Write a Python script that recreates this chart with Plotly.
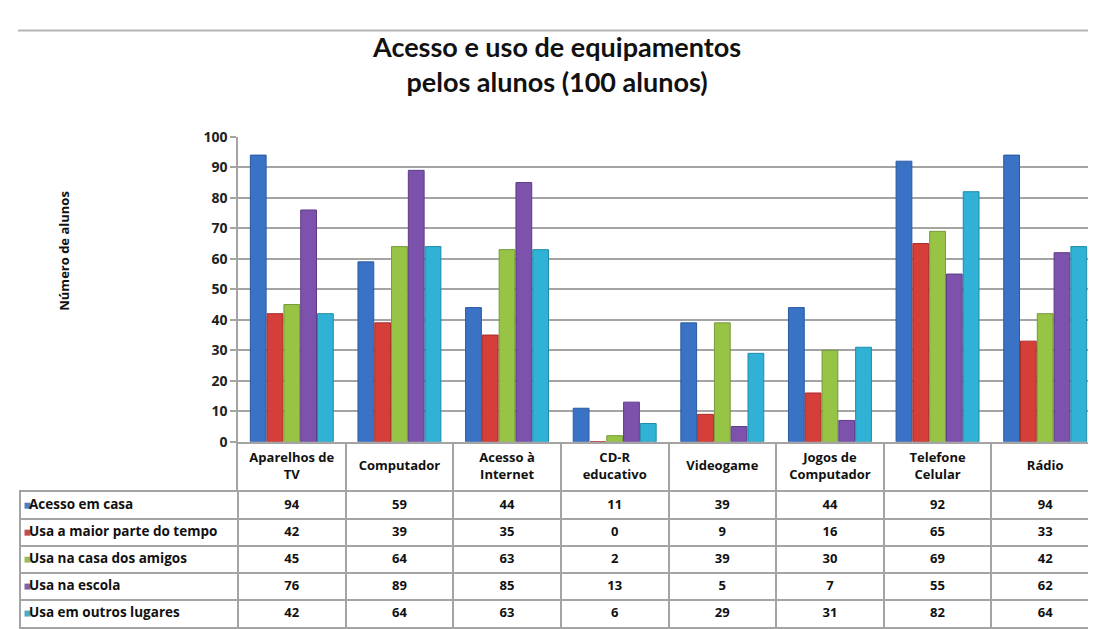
import plotly.graph_objects as go

categories = ["Aparelhos de TV", "Computador", "Acesso à Internet", "CD-R educativo",
              "Videogame", "Jogos de Computador", "Telefone Celular", "Rádio"]
header_labels = ["Aparelhos de<br>TV", "Computador", "Acesso à<br>Internet", "CD-R<br>educativo",
                 "Videogame", "Jogos de<br>Computador", "Telefone<br>Celular", "Rádio"]

series_names = ["Acesso em casa", "Usa a maior parte do tempo", "Usa na casa dos amigos",
                "Usa na escola", "Usa em outros lugares"]
acesso_em_casa = [94, 59, 44, 11, 39, 44, 92, 94]
usa_maior_parte = [42, 39, 35, 0, 9, 16, 65, 33]
usa_casa_amigos = [45, 64, 63, 2, 39, 30, 69, 42]
usa_na_escola = [76, 89, 85, 13, 5, 7, 55, 62]
usa_outros_lugares = [42, 64, 63, 6, 29, 31, 82, 64]
series_values = [acesso_em_casa, usa_maior_parte, usa_casa_amigos, usa_na_escola, usa_outros_lugares]

bar_colors = ["#3A72C6", "#D63E3A", "#98C446", "#7D52AC", "#2FB2D5"]
line_colors = ["#2A5AA0", "#A82C28", "#74993A", "#5C3C85", "#1F8BA8"]
legend_colors = ["#4F81BD", "#C0504D", "#9BBB59", "#8064A2", "#4BACC6"]

W, H = 1096, 629
def px_x(x):
    return x / W
def px_y(y):
    return 1 - y / H

# layout geometry (pixels)
PLOT_L, PLOT_R = 230, 1091
TABLE_L = 13
PLOT_TOP, HEADER_TOP = 122.5, 437
BODY_TOP, BODY_BOT = 489, 628
COL_W = (PLOT_R - PLOT_L) / len(categories)
LAB_W = (PLOT_L - TABLE_L) / COL_W   # label column width in column units

GRID = "#A4A4A4"
FONT = "Open Sans, Roboto, sans-serif"

fig = go.Figure()
for name, vals, c, lc in zip(series_names, series_values, bar_colors, line_colors):
    fig.add_trace(go.Bar(x=categories, y=vals, name=name,
                         marker=dict(color=c, line=dict(color=lc, width=1)),
                         showlegend=False, xaxis="x", yaxis="y"))

# table header (category names)
fig.add_trace(go.Scatter(
    x=[i + 0.5 for i in range(len(categories))], y=[0.5] * len(categories),
    text=[f"<b>{h}</b>" for h in header_labels], mode="text", textposition="middle center",
    textfont=dict(family=FONT, size=13, color="#111"),
    xaxis="x3", yaxis="y3", showlegend=False, hoverinfo="skip", cliponaxis=False))

# table body values
vx, vy, vt = [], [], []
for r, vals in enumerate(series_values):
    for i, v in enumerate(vals):
        vx.append(i + 0.5)
        vy.append(r + 0.5)
        vt.append(f"<b>{v}</b>")
fig.add_trace(go.Scatter(
    x=vx, y=vy, text=vt, mode="text", textposition="middle center",
    textfont=dict(family=FONT, size=13, color="#111"),
    xaxis="x2", yaxis="y2", showlegend=False, hoverinfo="skip", cliponaxis=False))

# legend keys
rows_y = [r + 0.5 for r in range(len(series_names))]
fig.add_trace(go.Scatter(
    x=[-LAB_W + 6.5 / COL_W] * len(series_names), y=rows_y, mode="markers",
    marker=dict(symbol="square", size=6, color=legend_colors),
    xaxis="x2", yaxis="y2", showlegend=False, hoverinfo="skip", cliponaxis=False))
# series labels
fig.add_trace(go.Scatter(
    x=[-LAB_W + 8 / COL_W] * len(series_names), y=rows_y,
    text=[f"<b>{n}</b>" for n in series_names], mode="text", textposition="middle right",
    textfont=dict(family=FONT, size=13.5, color="#111"),
    xaxis="x2", yaxis="y2", showlegend=False, hoverinfo="skip", cliponaxis=False))

fig.update_layout(
    width=W, height=H,
    margin=dict(l=0, r=0, t=0, b=0),
    paper_bgcolor="white", plot_bgcolor="white",
    barmode="group", bargap=0.22, bargroupgap=0.06,
    xaxis=dict(domain=[px_x(PLOT_L), px_x(PLOT_R)], anchor="y", showticklabels=False, showline=True,
               linecolor=GRID, linewidth=1.5, ticks="", fixedrange=True),
    yaxis=dict(domain=[px_y(HEADER_TOP), px_y(PLOT_TOP)], anchor="x", range=[0, 100], dtick=10,
               showgrid=True, gridcolor=GRID, gridwidth=2,
               showline=True, linecolor=GRID, linewidth=1.5,
               ticks="outside", ticklen=6, tickcolor=GRID, tickwidth=2,
               tickfont=dict(family=FONT, size=14, color="#222", weight="bold"),
               zeroline=False, fixedrange=True),
    xaxis2=dict(domain=[px_x(TABLE_L), px_x(PLOT_R)], anchor="y2", range=[-LAB_W, len(categories)],
                tickvals=list(range(len(categories))), showgrid=True, gridcolor=GRID, gridwidth=1.5,
                showticklabels=False, ticks="", zeroline=False,
                showline=True, mirror=True, linecolor=GRID, linewidth=1.5, fixedrange=True),
    yaxis2=dict(domain=[px_y(BODY_BOT), px_y(BODY_TOP)], anchor="x2", range=[len(series_names), 0],
                tickvals=list(range(1, len(series_names))), showgrid=True, gridcolor=GRID, gridwidth=1.5,
                showticklabels=False, ticks="", zeroline=False,
                showline=True, mirror=True, linecolor=GRID, linewidth=1.5, fixedrange=True),
    xaxis3=dict(domain=[px_x(PLOT_L), px_x(PLOT_R)], anchor="y3", range=[0, len(categories)],
                tickvals=list(range(1, len(categories))), showgrid=True, gridcolor=GRID, gridwidth=1.5,
                showticklabels=False, ticks="", zeroline=False, showline=False, fixedrange=True),
    yaxis3=dict(domain=[px_y(BODY_TOP), px_y(HEADER_TOP)], anchor="x3", range=[0, 1],
                showgrid=False, showticklabels=False, ticks="", zeroline=False,
                showline=True, mirror=True, linecolor=GRID, linewidth=1.5, fixedrange=True),
    font=dict(family=FONT),
)

fig.add_annotation(x=px_x(548), y=px_y(47), xref="paper", yref="paper",
                   text="<b>Acesso e uso de equipamentos<br>pelos alunos (100 alunos)</b>",
                   showarrow=False, xanchor="center", yanchor="middle",
                   font=dict(family="Lato, Open Sans, sans-serif", size=27, color="#111"))
fig.add_annotation(x=px_x(45), y=px_y(240), xref="paper", yref="paper",
                   text="<b>Número de alunos</b>", textangle=-90, showarrow=False,
                   font=dict(family=FONT, size=13, color="#111"))
fig.add_shape(type="line", xref="paper", yref="paper",
              x0=px_x(10), x1=1, y0=px_y(13), y1=px_y(13),
              line=dict(color="#B5B5B5", width=2))

fig.write_html("out.html")
